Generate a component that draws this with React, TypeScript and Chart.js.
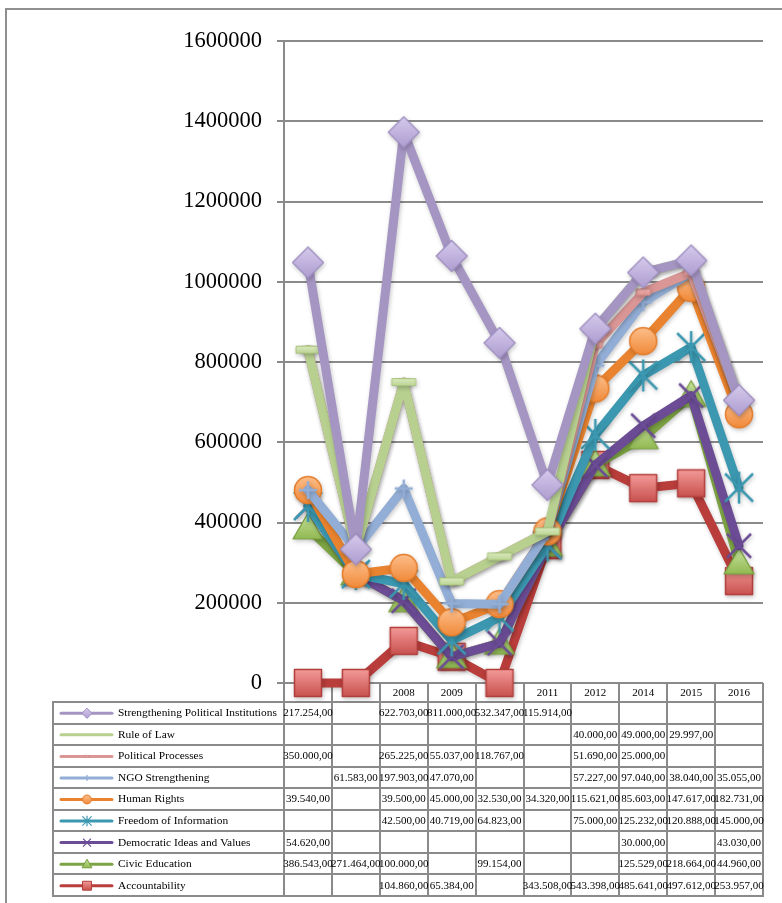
import React, { useEffect, useRef } from "react";
import { Chart, registerables } from "chart.js";

Chart.register(...registerables);

// ---------- data ----------
const categories = ["2006", "2007", "2008", "2009", "2010", "2011", "2012", "2014", "2015", "2016"];

// series in stacking order (bottom first)
const accountability = [null, null, 104860, 65384, null, 343508, 543398, 485641, 497612, 253957];
const civicEducation = [386543, 271464, 100000, null, 99154, null, null, 125529, 218664, 44960];
const democraticIdeas = [54620, null, null, null, null, null, null, 30000, null, 43030];
const freedomOfInformation = [null, null, 42500, 40719, 64823, null, 75000, 125232, 120888, 145000];
const humanRights = [39540, null, 39500, 45000, 32530, 34320, 115621, 85603, 147617, 182731];
const ngoStrengthening = [null, 61583, 197903, 47070, null, null, 57227, 97040, 38040, 35055];
const politicalProcesses = [350000, null, 265225, 55037, 118767, null, 51690, 25000, null, null];
const ruleOfLaw = [null, null, null, null, null, null, 40000, 49000, 29997, null];
const strengtheningPolitical = [217254, null, 622703, 811000, 532347, 115914, null, null, null, null];

const yMin = 0;
const yMax = 1600000;
const yStep = 200000;

type Kind = "square" | "triangle" | "x" | "star" | "circle" | "plus" | "dashSmall" | "dashWide" | "diamond";

interface Style {
  line: string;
  top: string;
  bottom: string;
  stroke: string;
  kind: Kind;
}

const seriesNames = [
  "Accountability",
  "Civic Education",
  "Democratic Ideas and Values",
  "Freedom of Information",
  "Human Rights",
  "NGO Strengthening",
  "Political Processes",
  "Rule of Law",
  "Strengthening Political Institutions",
];
const seriesValues = [
  accountability,
  civicEducation,
  democraticIdeas,
  freedomOfInformation,
  humanRights,
  ngoStrengthening,
  politicalProcesses,
  ruleOfLaw,
  strengtheningPolitical,
];
const seriesStyles: Style[] = [
  { line: "#B83D3B", top: "#F39A98", bottom: "#C8514E", stroke: "#B23E3B", kind: "square" },
  { line: "#7DA444", top: "#C3DF98", bottom: "#8DB64C", stroke: "#789D3E", kind: "triangle" },
  { line: "#6B4C95", top: "#6B4C95", bottom: "#6B4C95", stroke: "#6B4C95", kind: "x" },
  { line: "#3B98B0", top: "#3B98B0", bottom: "#3B98B0", stroke: "#3B98B0", kind: "star" },
  { line: "#E9832F", top: "#FDBE8A", bottom: "#F08A3A", stroke: "#E47C2A", kind: "circle" },
  { line: "#93AED6", top: "#93AED6", bottom: "#93AED6", stroke: "#93AED6", kind: "plus" },
  { line: "#D99695", top: "#F2B5B3", bottom: "#DE9593", stroke: "#CF8987", kind: "dashSmall" },
  { line: "#B7D08F", top: "#D9E9BC", bottom: "#BCD596", stroke: "#A9C47C", kind: "dashWide" },
  { line: "#A595C3", top: "#D5CAEC", bottom: "#AD9DD0", stroke: "#9E8DC0", kind: "diamond" },
];

const FONT = '"Liberation Serif", "Times New Roman", serif';
const GRID = "#8a8a8a";

function fmt(v: number | null): string {
  if (v === null || v === undefined) return "";
  const s = Math.round(v).toString().replace(/\B(?=(\d{3})+(?!\d))/g, ".");
  return s + ",00";
}

function drawMarker(ctx: CanvasRenderingContext2D, st: Style, cx: number, cy: number, s: number) {
  ctx.save();
  ctx.lineJoin = "round";
  const grad = (h: number) => {
    const g = ctx.createLinearGradient(cx, cy - h, cx, cy + h);
    g.addColorStop(0, st.top);
    g.addColorStop(1, st.bottom);
    return g;
  };
  switch (st.kind) {
    case "diamond": {
      const r = 15.5 * s;
      ctx.beginPath();
      ctx.moveTo(cx, cy - r);
      ctx.lineTo(cx + r, cy);
      ctx.lineTo(cx, cy + r);
      ctx.lineTo(cx - r, cy);
      ctx.closePath();
      ctx.fillStyle = grad(r);
      ctx.fill();
      ctx.strokeStyle = st.stroke;
      ctx.lineWidth = Math.max(1, 1.2 * s);
      ctx.stroke();
      break;
    }
    case "square": {
      const h = 13.5 * s;
      ctx.beginPath();
      ctx.rect(cx - h, cy - h, 2 * h, 2 * h);
      ctx.fillStyle = grad(h);
      ctx.fill();
      ctx.strokeStyle = st.stroke;
      ctx.lineWidth = Math.max(1, 1.5 * s);
      ctx.stroke();
      break;
    }
    case "circle": {
      const r = 13.5 * s;
      ctx.beginPath();
      ctx.arc(cx, cy, r, 0, Math.PI * 2);
      ctx.fillStyle = grad(r);
      ctx.fill();
      ctx.strokeStyle = st.stroke;
      ctx.lineWidth = Math.max(1, 1.5 * s);
      ctx.stroke();
      break;
    }
    case "triangle": {
      const w = 15 * s;
      ctx.beginPath();
      ctx.moveTo(cx, cy - 15 * s);
      ctx.lineTo(cx + w, cy + 11 * s);
      ctx.lineTo(cx - w, cy + 11 * s);
      ctx.closePath();
      ctx.fillStyle = grad(13 * s);
      ctx.fill();
      ctx.strokeStyle = st.stroke;
      ctx.lineWidth = Math.max(1, 1.2 * s);
      ctx.stroke();
      break;
    }
    case "x": {
      const r = 12 * s;
      ctx.beginPath();
      ctx.moveTo(cx - r, cy - r);
      ctx.lineTo(cx + r, cy + r);
      ctx.moveTo(cx + r, cy - r);
      ctx.lineTo(cx - r, cy + r);
      ctx.strokeStyle = st.stroke;
      ctx.lineWidth = Math.max(1.2, 2.5 * s);
      ctx.stroke();
      break;
    }
    case "star": {
      const r = 14 * s;
      ctx.beginPath();
      ctx.moveTo(cx - r, cy - r);
      ctx.lineTo(cx + r, cy + r);
      ctx.moveTo(cx + r, cy - r);
      ctx.lineTo(cx - r, cy + r);
      ctx.moveTo(cx, cy - r * 1.15);
      ctx.lineTo(cx, cy + r * 1.15);
      ctx.strokeStyle = st.stroke;
      ctx.lineWidth = Math.max(1.2, 2.5 * s);
      ctx.stroke();
      break;
    }
    case "plus": {
      const r = 9 * s;
      ctx.beginPath();
      ctx.moveTo(cx - r, cy);
      ctx.lineTo(cx + r, cy);
      ctx.moveTo(cx, cy - r);
      ctx.lineTo(cx, cy + r);
      ctx.strokeStyle = st.stroke;
      ctx.lineWidth = Math.max(1.2, 2.5 * s);
      ctx.stroke();
      break;
    }
    case "dashSmall":
    case "dashWide": {
      const hw = (st.kind === "dashWide" ? 12 : 7) * s;
      const hh = (st.kind === "dashWide" ? 3.5 : 3) * s;
      ctx.beginPath();
      ctx.rect(cx - hw, cy - hh, 2 * hw, 2 * hh);
      ctx.fillStyle = grad(hh);
      ctx.fill();
      ctx.strokeStyle = st.stroke;
      ctx.lineWidth = Math.max(0.8, 1 * s);
      ctx.stroke();
      break;
    }
  }
  ctx.restore();
}

function makeMarkerCanvas(st: Style): HTMLCanvasElement {
  const c = document.createElement("canvas");
  c.width = 40;
  c.height = 40;
  const ctx = c.getContext("2d")!;
  drawMarker(ctx, st, 20, 20, 1);
  return c;
}

function drawTable(chart: any) {
  const ctx: CanvasRenderingContext2D = chart.ctx;
  const area = chart.chartArea;
  const n = categories.length;
  const colW = (area.right - area.left) / n;
  const tableLeft = 53;
  const headTop = area.bottom;
  const headBottom = 702;
  const tableBottom = 896;
  const rowH = (tableBottom - headBottom) / seriesNames.length;

  ctx.save();
  ctx.strokeStyle = GRID;
  ctx.lineWidth = 2;
  ctx.beginPath();
  for (let i = 0; i <= n; i++) {
    const x = Math.round(area.left + i * colW);
    ctx.moveTo(x, headTop);
    ctx.lineTo(x, tableBottom);
  }
  ctx.moveTo(tableLeft, headBottom);
  ctx.lineTo(tableLeft, tableBottom);
  for (let r = 0; r <= seriesNames.length; r++) {
    const y = Math.round(headBottom + r * rowH);
    ctx.moveTo(tableLeft - 1, y);
    ctx.lineTo(area.right + 1, y);
  }
  ctx.stroke();

  // header texts
  ctx.fillStyle = "#000";
  ctx.font = `11px ${FONT}`;
  ctx.textAlign = "center";
  ctx.textBaseline = "middle";
  for (let i = 0; i < n; i++) {
    ctx.fillText(categories[i], area.left + (i + 0.5) * colW, (headTop + headBottom) / 2 + 1);
  }

  // rows (top row = last series)
  for (let r = 0; r < seriesNames.length; r++) {
    const si = seriesNames.length - 1 - r;
    const yc = headBottom + (r + 0.5) * rowH + 0.5;
    const st = seriesStyles[si];
    // legend sample
    ctx.save();
    ctx.strokeStyle = st.line;
    ctx.lineWidth = 3;
    ctx.lineCap = "round";
    ctx.beginPath();
    ctx.moveTo(61, yc);
    ctx.lineTo(112, yc);
    ctx.stroke();
    ctx.restore();
    if (st.kind !== "dashWide") drawMarker(ctx, st, 87, yc, 0.33);
    ctx.fillStyle = "#000";
    ctx.textAlign = "left";
    ctx.font = `11.4px ${FONT}`;
    ctx.fillText(seriesNames[si], 118, yc);
    ctx.textAlign = "center";
    ctx.font = `11px ${FONT}`;
    const vals = seriesValues[si];
    for (let i = 0; i < n; i++) {
      const t = fmt(vals[i]);
      if (t) ctx.fillText(t, area.left + (i + 0.5) * colW, yc);
    }
  }
  ctx.restore();
}

const framePlugin = {
  id: "frameTableOrder",
  beforeDraw(chart: any) {
    const ctx = chart.ctx;
    ctx.save();
    ctx.strokeStyle = "#8f8f8f";
    ctx.lineWidth = 2;
    ctx.beginPath();
    ctx.moveTo(6, chart.height);
    ctx.lineTo(6, 9);
    ctx.lineTo(chart.width, 9);
    ctx.stroke();
    ctx.restore();
  },
  beforeDatasetsDraw(chart: any) {
    drawTable(chart);
    const ctx = chart.ctx;
    // Excel draws later series on top
    for (let i = 0; i < chart.data.datasets.length; i++) {
      const meta = chart.getDatasetMeta(i);
      ctx.save();
      ctx.shadowColor = "rgba(0,0,0,0.22)";
      ctx.shadowBlur = 4;
      ctx.shadowOffsetX = 1;
      ctx.shadowOffsetY = 2;
      meta.controller.draw();
      ctx.restore();
    }
    return false;
  },
};

export default function App() {
  const ref = useRef<HTMLCanvasElement | null>(null);

  useEffect(() => {
    if (!ref.current) return;
    const datasets = seriesNames.map((name, i) => {
      const st = seriesStyles[i];
      return {
        label: name,
        data: seriesValues[i].map((v) => (v === null ? 0 : v)),
        borderColor: st.line,
        backgroundColor: st.line,
        borderWidth: 9,
        borderJoinStyle: "round" as const,
        borderCapStyle: "round" as const,
        tension: 0,
        fill: false,
        clip: false as const,
        pointStyle: makeMarkerCanvas(st),
        pointRadius: 14,
        pointHoverRadius: 14,
        pointBorderWidth: 0,
      };
    });

    const chart = new Chart(ref.current, {
      type: "line",
      data: { labels: categories, datasets },
      plugins: [framePlugin],
      options: {
        animation: false,
        responsive: false,
        devicePixelRatio: 1,
        events: [],
        layout: { padding: { top: 41, right: 19, bottom: 220, left: 0 } },
        plugins: {
          legend: { display: false },
          tooltip: { enabled: false },
          title: { display: false },
        },
        scales: {
          x: {
            type: "category",
            display: false,
            offset: true,
          },
          y: {
            stacked: true,
            min: yMin,
            max: yMax,
            ticks: {
              stepSize: yStep,
              color: "#000",
              font: { family: FONT, size: 22.5 },
              padding: 15,
              callback: (v: any) => String(v),
            },
            grid: {
              color: GRID,
              lineWidth: 2,
              tickLength: 7,
              drawTicks: true,
            },
            border: { color: GRID, width: 2 },
            afterFit: (scale: any) => {
              scale.width = 284;
            },
          },
        },
      },
    } as any);
    return () => chart.destroy();
  }, []);

  return (
    <div style={{ position: "absolute", left: 0, top: 0, width: 782, height: 903, background: "#fff" }}>
      <canvas ref={ref} width={782} height={903} style={{ display: "block" }} />
    </div>
  );
}
